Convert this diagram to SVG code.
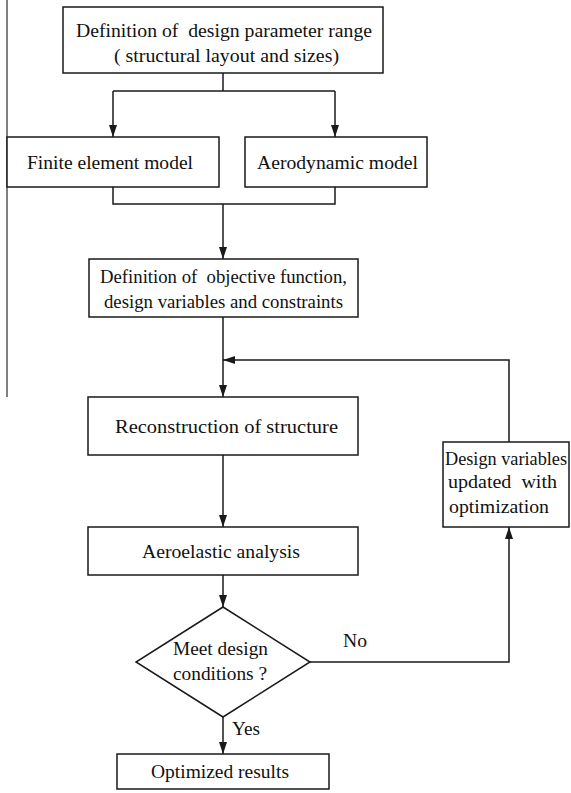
<svg xmlns="http://www.w3.org/2000/svg" width="571" height="793" viewBox="0 0 571 793">
<defs>
<marker id="arr" viewBox="0 0 12 8" refX="12" refY="4" markerWidth="12" markerHeight="8" markerUnits="userSpaceOnUse" orient="auto">
<path d="M0,0 L12,4 L0,8 Z" fill="#1a1a1a"/>
</marker>
</defs>
<style>
.box{fill:#fff;stroke:#1a1a1a;stroke-width:1.5}
.ln{fill:none;stroke:#1a1a1a;stroke-width:1.5}
text{font-family:"Liberation Serif","Times New Roman",serif;font-size:19px;fill:#111}
</style>
<rect width="571" height="793" fill="#fff"/>
<line x1="7" y1="0" x2="7" y2="397" stroke="#808080" stroke-width="2"/>
<g id="connectors">
<polyline class="ln" points="223,73 223,91"/>
<polyline class="ln" points="113,91 335,91"/>
<line class="ln" x1="113" y1="91" x2="113" y2="137" marker-end="url(#arr)"/>
<line class="ln" x1="335" y1="91" x2="335" y2="137" marker-end="url(#arr)"/>
<polyline class="ln" points="113,187 113,204 335,204 335,187"/>
<line class="ln" x1="223" y1="204" x2="223" y2="259" marker-end="url(#arr)"/>
<line class="ln" x1="223" y1="317" x2="223" y2="397" marker-end="url(#arr)"/>
<polyline class="ln" points="509,442 509,360 223,360" marker-end="url(#arr)"/>
<line class="ln" x1="223" y1="455" x2="223" y2="527" marker-end="url(#arr)"/>
<line class="ln" x1="223" y1="575" x2="223" y2="607" marker-end="url(#arr)"/>
<polyline class="ln" points="310,662 509,662 509,527" marker-end="url(#arr)"/>
<line class="ln" x1="223" y1="717" x2="223" y2="754" marker-end="url(#arr)"/>
<text x="343" y="647" textLength="24" lengthAdjust="spacingAndGlyphs">No</text>
<text x="232" y="735" textLength="28" lengthAdjust="spacingAndGlyphs">Yes</text>
</g>
<g id="n1">
<rect class="box" x="63" y="7" width="320" height="66"/>
<text x="76" y="37" textLength="296" lengthAdjust="spacingAndGlyphs" xml:space="preserve">Definition of  design parameter range</text>
<text x="114" y="62" textLength="225" lengthAdjust="spacingAndGlyphs">( structural layout and sizes)</text>
</g>
<g id="n2">
<rect class="box" x="7" y="137" width="212" height="50"/>
<text x="27" y="169" textLength="166" lengthAdjust="spacingAndGlyphs">Finite element model</text>
</g>
<g id="n3">
<rect class="box" x="245" y="137" width="182" height="50"/>
<text x="257" y="169" textLength="161" lengthAdjust="spacingAndGlyphs">Aerodynamic model</text>
</g>
<g id="n4">
<rect class="box" x="89" y="259" width="269" height="58"/>
<text x="100" y="283" textLength="247" lengthAdjust="spacingAndGlyphs" xml:space="preserve">Definition of  objective function,</text>
<text x="104" y="308" textLength="239" lengthAdjust="spacingAndGlyphs">design variables and constraints</text>
</g>
<g id="n5">
<rect class="box" x="88" y="397" width="270" height="58"/>
<text x="115" y="433" textLength="223" lengthAdjust="spacingAndGlyphs">Reconstruction of structure</text>
</g>
<g id="n6">
<rect class="box" x="88" y="527" width="270" height="48"/>
<text x="142" y="558" textLength="158" lengthAdjust="spacingAndGlyphs">Aeroelastic analysis</text>
</g>
<g id="n7">
<polygon class="box" points="223,607 310,662 223,717 136,662"/>
<text x="173" y="655" textLength="95" lengthAdjust="spacingAndGlyphs">Meet design</text>
<text x="173" y="680" textLength="94" lengthAdjust="spacingAndGlyphs">conditions ?</text>
</g>
<g id="n8">
<rect class="box" x="443" y="442" width="126" height="85"/>
<text x="445" y="465" textLength="122" lengthAdjust="spacingAndGlyphs">Design variables</text>
<text x="448" y="488" textLength="109" lengthAdjust="spacingAndGlyphs" xml:space="preserve">updated  with</text>
<text x="449" y="513" textLength="100" lengthAdjust="spacingAndGlyphs">optimization</text>
</g>
<g id="n9">
<rect class="box" x="117" y="754" width="212" height="35"/>
<text x="151" y="778" textLength="138" lengthAdjust="spacingAndGlyphs">Optimized results</text>
</g>
</svg>
